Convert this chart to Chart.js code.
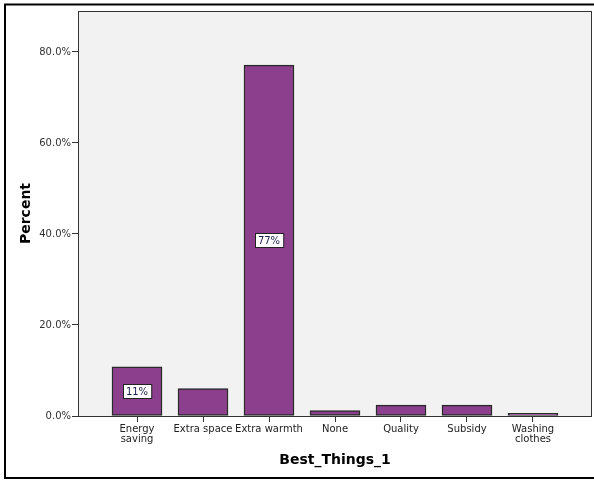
<!DOCTYPE html>
<html>
<head>
<meta charset="utf-8">
<script src="https://cdn.jsdelivr.net/npm/chart.js@4"></script>
<style>
  html, body { margin: 0; padding: 0; background: #fff; }
  #wrap { width: 594px; height: 480px; position: relative; }
</style>
</head>
<body>
<div id="wrap"><canvas id="chart" width="594" height="480"></canvas></div>
<script>
// categories and percentages
const categories = [['Energy', 'saving'], 'Extra space', 'Extra warmth', 'None', 'Quality', 'Subsidy', ['Washing', 'clothes']];
const percents = [10.8, 6.0, 77.1, 1.2, 2.4, 2.4, 0.6];
const barLabels = ['11%', '', '77%', '', '', '', ''];
const yTicks = [0, 20, 40, 60, 80];

const barColor = '#8b3f8c';

// grey plot background, frame round the whole picture and the value boxes
const decorPlugin = {
  id: 'decor',
  beforeDraw(chart) {
    const ctx = chart.ctx;
    const a = chart.chartArea;
    ctx.save();
    ctx.fillStyle = '#f2f2f2';
    ctx.fillRect(a.left, a.top, a.right - a.left, a.bottom - a.top);
    ctx.strokeStyle = '#000';
    ctx.lineWidth = 2;
    ctx.strokeRect(5, 4.5, 620, 473.5);
    ctx.restore();
  },
  afterDraw(chart) {
    const ctx = chart.ctx;
    const a = chart.chartArea;
    ctx.save();
    ctx.strokeStyle = '#333';
    ctx.lineWidth = 1;
    ctx.strokeRect(a.left + 0.5, a.top + 0.5, a.right - a.left - 1, a.bottom - a.top);

    const meta = chart.getDatasetMeta(0);
    ctx.font = '10px "DejaVu Sans"';
    ctx.textAlign = 'center';
    ctx.textBaseline = 'middle';
    meta.data.forEach((bar, i) => {
      const txt = barLabels[i];
      if (!txt) return;
      const cy = Math.round((bar.y + bar.base) / 2);
      const w = ctx.measureText(txt).width + 6;
      const h = 14;
      ctx.fillStyle = '#fff';
      ctx.fillRect(Math.round(bar.x - w / 2) + 0.5, cy - h / 2 + 0.5, w, h);
      ctx.strokeStyle = '#222';
      ctx.strokeRect(Math.round(bar.x - w / 2) + 0.5, cy - h / 2 + 0.5, w, h);
      ctx.fillStyle = '#1a2050';
      ctx.fillText(txt, bar.x, cy + 1);
    });
    ctx.restore();
  }
};

const ctx = document.getElementById('chart').getContext('2d');
new Chart(ctx, {
  type: 'bar',
  data: {
    datasets: [{
      data: percents.map((v, i) => ({ x: i, y: v })),
      backgroundColor: barColor,
      borderColor: '#2a2a2a',
      borderWidth: 1.5,
      borderSkipped: false,
      barThickness: 50
    }]
  },
  options: {
    responsive: false,
    animation: false,
    layout: { padding: { left: 0, top: 11, right: 2, bottom: 0 } },
    plugins: { legend: { display: false }, tooltip: { enabled: false } },
    scales: {
      x: {
        type: 'linear',
        offset: false,
        min: -0.894,
        max: 6.894,
        afterFit(scale) { scale.height = 64; },
        afterBuildTicks(scale) { scale.ticks = categories.map((c, i) => ({ value: i })); },
        border: { display: false },
        grid: { offset: false, drawOnChartArea: false, tickLength: 6, color: '#333', lineWidth: 1 },
        ticks: {
          autoSkip: false,
          maxRotation: 0,
          padding: 3,
          color: '#222',
          font: { family: 'DejaVu Sans', size: 10, lineHeight: 0.95 },
          callback: (v) => categories[v]
        },
        title: {
          display: true,
          text: 'Best_Things_1',
          color: '#000',
          font: { family: 'DejaVu Sans', size: 14, weight: 'bold' },
          padding: { top: 0, bottom: 11 }
        }
      },
      y: {
        min: 0,
        max: 89,
        afterFit(scale) { scale.width = 78; },
        afterBuildTicks(scale) { scale.ticks = yTicks.map(v => ({ value: v })); },
        border: { display: false },
        grid: { drawOnChartArea: false, tickLength: 6, color: '#333', lineWidth: 1 },
        ticks: {
          padding: 1,
          color: '#333',
          font: { family: 'DejaVu Sans', size: 10 },
          callback: (v) => v.toFixed(1) + '%'
        },
        title: {
          display: true,
          text: 'Percent',
          color: '#000',
          font: { family: 'DejaVu Sans', size: 14, weight: 'bold' },
          padding: { top: 18, bottom: 0 }
        }
      }
    }
  },
  plugins: [decorPlugin]
});
</script>
</body>
</html>
